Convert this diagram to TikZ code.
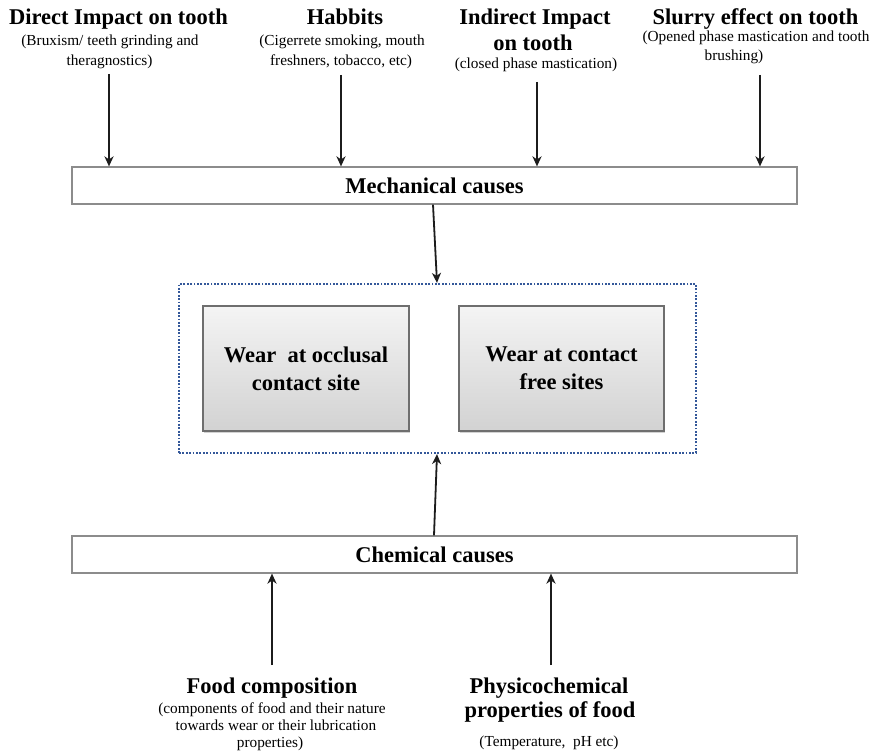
\documentclass[tikz,border=0pt]{standalone}
\usepackage{fontspec}
\setmainfont{Liberation Serif}
\usetikzlibrary{arrows.meta,shadows}

\newcommand{\cdHead}{\fontsize{22.5}{25}\selectfont\bfseries}
\newcommand{\cdNote}{\fontsize{15.3}{18}\selectfont}
\newcommand{\cdWear}{\fontsize{22.5}{28}\selectfont\bfseries}

\definecolor{barline}{HTML}{8C8C8C}
\definecolor{wearline}{HTML}{6E6E6E}
\definecolor{weartop}{HTML}{F4F4F4}
\definecolor{wearbot}{HTML}{D2D2D2}
\definecolor{zoneblue}{HTML}{34589A}
\definecolor{ink}{HTML}{1C1C1C}

\tikzset{
  head/.style={font=\cdHead, anchor=base, inner sep=0pt},
  note/.style={font=\cdNote, anchor=base, inner sep=0pt},
  bar/.style={draw=barline, line width=1.2pt, fill=white, font=\cdHead,
    minimum width=725pt, minimum height=37pt, inner sep=0pt},
  wear/.style={draw=wearline, line width=1.3pt, top color=weartop, bottom color=wearbot,
    font=\cdWear, align=center, minimum height=125pt, inner sep=0pt,
    drop shadow={shadow xshift=1.2pt, shadow yshift=-1.8pt, opacity=0.35}},
  zonebox/.style={draw=zoneblue, line width=2.2pt, dash pattern=on 1.8pt off 1.6pt,
    minimum width=517pt, minimum height=169pt, inner sep=0pt},
  arr/.style={draw=ink, line width=1.8pt, -{Stealth[length=10pt,width=9pt,inset=3pt]}},
}

\begin{document}
\begin{tikzpicture}[x=1pt,y=-1pt]
\useasboundingbox[fill=white] (0,0) rectangle (876,754);

% mechanical sources
\node[head] (dTitle) at (118.5,25) {Direct Impact on tooth};
\node[note] (dNoteA) at (110,46) {(Bruxism/ teeth grinding and};
\node[note] (dNoteB) at (109.5,66) {theragnostics)};

\node[head] (hTitle) at (345,25) {Habbits};
\node[note] (hNoteA) at (342,46) {(Cigerrete smoking, mouth};
\node[note] (hNoteB) at (341,66) {freshners, tobacco, etc)};

\node[head] (iTitleA) at (535,25) {Indirect Impact};
\node[head] (iTitleB) at (533,51) {on tooth};
\node[note] (iNote) at (536,69) {(closed phase mastication)};

\node[head] (sTitle) at (755.5,25) {Slurry effect on tooth};
\node[note] (sNoteA) at (756,42) {(Opened phase mastication and tooth};
\node[note] (sNoteB) at (734,61) {brushing)};

% cause bars
\node[bar] (mech) at (434.5,185.5) {Mechanical causes};
\node[bar] (chem) at (434.5,554.5) {Chemical causes};

% wear sites
\node[zonebox] (zone) at (437.5,368.5) {};
\node[wear, minimum width=206pt] (occl) at (306,368.5) {Wear\ \ at occlusal\\contact site};
\node[wear, minimum width=205pt] (free) at (561.5,368.5) {Wear at contact\\free sites};

% chemical sources
\node[head] (fTitle) at (272,693) {Food composition};
\node[note] (fNoteA) at (272,713) {(components of food and their nature};
\node[note] (fNoteB) at (276,730) {towards wear or their lubrication};
\node[note] (fNoteC) at (270,747) {properties)};

\node[head] (pTitleA) at (549,693) {Physicochemical};
\node[head] (pTitleB) at (550,717) {properties of food};
\node[note] (pNote) at (549,746) {(Temperature,\ \ pH etc)};

% arrow tails
\coordinate (dTail) at (109,74);
\coordinate (hTail) at (341,75);
\coordinate (iTail) at (537,82);
\coordinate (sTail) at (760,75);
\coordinate (fTail) at (272,665);
\coordinate (pTail) at (551,665);

% connectors
\draw[arr] (dTail) -- (dTail |- mech.north);
\draw[arr] (hTail) -- (hTail |- mech.north);
\draw[arr] (iTail) -- (iTail |- mech.north);
\draw[arr] (sTail) -- (sTail |- mech.north);
\draw[arr] ([xshift=-1.5pt]mech.south) -- ([xshift=-0.5pt]zone.north);
\draw[arr] ([xshift=-0.5pt]chem.north) -- ([xshift=-0.5pt]zone.south);
\draw[arr] (fTail) -- (fTail |- chem.south);
\draw[arr] (pTail) -- (pTail |- chem.south);
\end{tikzpicture}
\end{document}
